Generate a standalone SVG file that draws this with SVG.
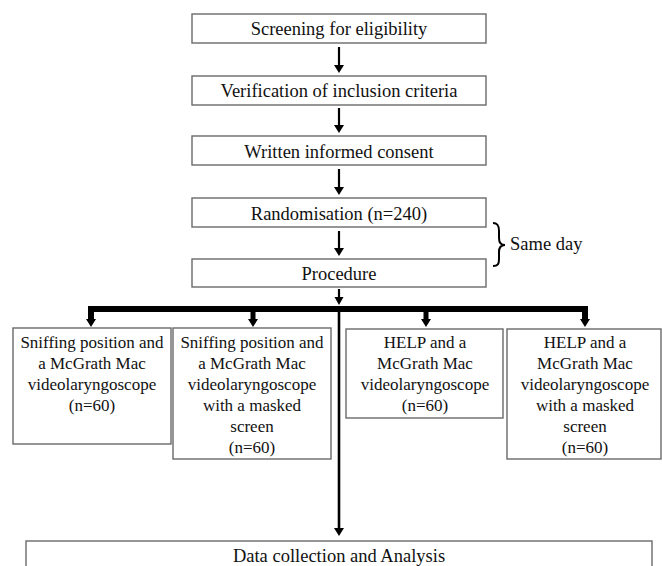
<svg xmlns="http://www.w3.org/2000/svg" width="662" height="566" viewBox="0 0 662 566">
<style>
.box{fill:#fff;stroke:#6a6a6a;stroke-width:1.4}
.t{font-family:"Liberation Serif","Times New Roman",serif;font-size:18.5px;fill:#111;text-anchor:middle}
.s{font-family:"Liberation Serif","Times New Roman",serif;font-size:17px;fill:#111;text-anchor:middle}
.ln{stroke:#000;stroke-width:2.2;fill:none}
.ah{fill:#000}
</style>
<rect width="662" height="566" fill="#fff"/>
<g id="connectors">
<line class="ln" x1="339" y1="47" x2="339" y2="66"/><polygon class="ah" points="334,65 344,65 339,73"/>
<line class="ln" x1="339" y1="108" x2="339" y2="126"/><polygon class="ah" points="334,125 344,125 339,133"/>
<line class="ln" x1="339" y1="169" x2="339" y2="188"/><polygon class="ah" points="334,187 344,187 339,195"/>
<line class="ln" x1="339" y1="231" x2="339" y2="249"/><polygon class="ah" points="334,248 344,248 339,256"/>
<line class="ln" x1="339" y1="289" x2="339" y2="298"/><polygon class="ah" points="334.5,297 343.5,297 339,305"/>
<path d="M91,320 V309 H585 V320" stroke="#000" stroke-width="6" fill="none" stroke-linejoin="miter"/>
<line x1="253" y1="309" x2="253" y2="320" stroke="#000" stroke-width="5"/>
<line x1="426" y1="309" x2="426" y2="320" stroke="#000" stroke-width="5"/>
<polygon class="ah" points="86,319 96,319 91,327"/>
<polygon class="ah" points="248,319 258,319 253,327"/>
<polygon class="ah" points="421,319 431,319 426,327"/>
<polygon class="ah" points="580,319 590,319 585,327"/>
<line x1="339" y1="311" x2="339" y2="529" stroke="#000" stroke-width="2.6"/>
<polygon class="ah" points="334,528 344,528 339,536"/>
<path d="M493,223 C498,223 499,226 499,231 V238 C499,242 501,245 505,245 C501,245 499,248 499,252 V259 C499,264 498,266 493,266" stroke="#000" stroke-width="2" fill="none"/>
</g>
<g id="screening"><rect class="box" x="192" y="14" width="294" height="29"/><text class="t" x="339" y="34.5">Screening for eligibility</text></g>
<g id="verification"><rect class="box" x="192" y="76" width="294" height="29"/><text class="t" x="339" y="97">Verification of inclusion criteria</text></g>
<g id="consent"><rect class="box" x="192" y="136" width="294" height="29"/><text class="t" x="339" y="158">Written informed consent</text></g>
<g id="randomisation"><rect class="box" x="192" y="198" width="294" height="29"/><text class="t" x="339" y="220">Randomisation (n=240)</text></g>
<g id="procedure"><rect class="box" x="192" y="259" width="294" height="28"/><text class="t" x="339" y="280">Procedure</text></g>
<g id="same-day"><text class="t" x="510" y="250" style="text-anchor:start">Same day</text></g>
<g id="group1"><rect class="box" x="13" y="328" width="158" height="116"/>
<text class="s" x="92" y="348">Sniffing position and</text><text class="s" x="92" y="369">a McGrath Mac</text><text class="s" x="92" y="390">videolaryngoscope</text><text class="s" x="92" y="411">(n=60)</text></g>
<g id="group2"><rect class="box" x="173" y="328" width="158" height="131"/>
<text class="s" x="252" y="348">Sniffing position and</text><text class="s" x="252" y="369">a McGrath Mac</text><text class="s" x="252" y="390">videolaryngoscope</text><text class="s" x="252" y="411">with a masked</text><text class="s" x="252" y="432">screen</text><text class="s" x="252" y="453">(n=60)</text></g>
<g id="group3"><rect class="box" x="346" y="329" width="157" height="89"/>
<text class="s" x="425" y="348">HELP and a</text><text class="s" x="425" y="369">McGrath Mac</text><text class="s" x="425" y="390">videolaryngoscope</text><text class="s" x="425" y="411">(n=60)</text></g>
<g id="group4"><rect class="box" x="507" y="329" width="154" height="130"/>
<text class="s" x="585" y="348">HELP and a</text><text class="s" x="585" y="369">McGrath Mac</text><text class="s" x="585" y="390">videolaryngoscope</text><text class="s" x="585" y="411">with a masked</text><text class="s" x="585" y="432">screen</text><text class="s" x="585" y="453">(n=60)</text></g>
<g id="data"><rect class="box" x="26" y="541" width="626" height="40"/><text class="t" x="339" y="561.5">Data collection and Analysis</text></g>
</svg>
